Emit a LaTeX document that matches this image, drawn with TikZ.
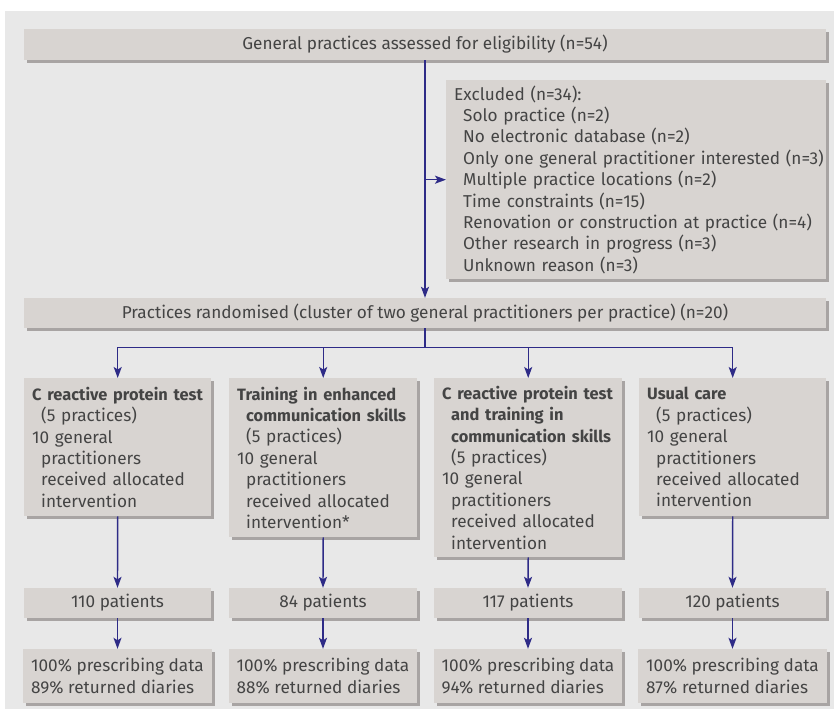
\documentclass[tikz,border=0pt]{standalone}
\usepackage{fontspec}
\setmainfont{Fira Sans}
\usetikzlibrary{arrows.meta,shadows,positioning}
\definecolor{bgc}{HTML}{E8E8E8}
\definecolor{boxc}{HTML}{D8D4D1}
\definecolor{shc}{HTML}{A8A4A3}
\definecolor{txc}{HTML}{444444}
\definecolor{arc}{HTML}{2E2B87}
\newcommand{\ind}{\hspace*{9pt}}
\newcommand{\hd}[1]{{\fontsize{16.4}{21.4}\selectfont\bfseries #1}}
\tikzset{
  card/.style={rectangle, fill=boxc, inner xsep=8pt, inner ysep=0pt, text=txc,
    font=\fontsize{17.2}{21.4}\selectfont,
    general shadow={fill=shc, shadow xshift=3pt, shadow yshift=-3pt}},
  flow/.style={draw=arc, line width=1.4pt, -{Stealth[length=11pt,width=8pt,inset=2.5pt]}},
  line/.style={draw=arc, line width=1.4pt}
}
\begin{document}
\begin{tikzpicture}[x=1pt,y=1pt]
\useasboundingbox (0,0) rectangle (834,-711);
\fill[bgc] (5,-11) rectangle (834,-709);

% top
\node[card, minimum width=802pt, minimum height=31pt] (top) at (425,-44.5) {General practices assessed for eligibility (n=54)};
\node[card, anchor=north west, inner xsep=2pt, text width=376pt, minimum height=199pt, align=left] (excl) at (446,-80)
 {\hspace*{6pt}Excluded (n=34):\\
  \hspace*{15pt}Solo practice (n=2)\\
  \hspace*{15pt}No electronic database (n=2)\\
  \hspace*{15pt}Only one general practitioner interested (n=3)\\
  \hspace*{15pt}Multiple practice locations (n=2)\\
  \hspace*{15pt}Time constraints (n=15)\\
  \hspace*{15pt}Renovation or construction at practice (n=4)\\
  \hspace*{15pt}Other research in progress (n=3)\\
  \hspace*{15pt}Unknown reason (n=3)};
\node[card, minimum width=802pt, minimum height=30pt] (rand) at (425,-313) {Practices randomised (cluster of two general practitioners per practice) (n=20)};

% arms
\node[card, anchor=north west, text width=171pt, minimum height=138pt, align=left] (b1) at (24,-378)
 {\hd{C reactive protein test}\\
  \ind(5 practices)\\
  10 general\\
  \ind practitioners\\
  \ind received allocated\\
  \ind intervention};
\node[card, anchor=north west, text width=172pt, minimum height=159pt, align=left] (b2) at (229,-378)
 {\hd{Training in enhanced}\\
  \ind\hd{communication skills}\\
  \ind(5 practices)\\
  10 general\\
  \ind practitioners\\
  \ind received allocated\\
  \ind intervention*};
\node[card, anchor=north west, text width=172pt, minimum height=179pt, align=left] (b3) at (434,-378)
 {\hd{C reactive protein test}\\
  \ind\hd{and training in}\\
  \ind\hd{communication skills}\\
  \ind(5 practices)\\
  10 general\\
  \ind practitioners\\
  \ind received allocated\\
  \ind intervention};
\node[card, anchor=north west, text width=171pt, minimum height=138pt, align=left] (b4) at (639,-378)
 {\hd{Usual care}\\
  \ind(5 practices)\\
  10 general\\
  \ind practitioners\\
  \ind received allocated\\
  \ind intervention};

% patients
\node[card, minimum width=187pt, minimum height=30pt] (p1) at (117.5,-603) {110 patients};
\node[card, minimum width=188pt, minimum height=30pt] (p2) at (323,-603) {84 patients};
\node[card, minimum width=188pt, minimum height=30pt] (p3) at (528,-603) {117 patients};
\node[card, minimum width=187pt, minimum height=30pt] (p4) at (732.5,-603) {120 patients};

% outcomes
\node[card, minimum width=187pt, minimum height=54pt, align=left] (d1) at (117.5,-676) {100\% prescribing data\\89\% returned diaries};
\node[card, minimum width=188pt, minimum height=54pt, align=left] (d2) at (323,-676) {100\% prescribing data\\88\% returned diaries};
\node[card, minimum width=188pt, minimum height=54pt, align=left] (d3) at (528,-676) {100\% prescribing data\\94\% returned diaries};
\node[card, minimum width=187pt, minimum height=54pt, align=left] (d4) at (732.5,-676) {100\% prescribing data\\87\% returned diaries};

% connectors
\draw[flow] (top.south) -- (rand.north);
\draw[flow] (top.south |- excl.west) -- (excl.west);
\coordinate (split) at ([yshift=-19pt]rand.south);
\draw[line] (rand.south) -- (split);
\foreach \b in {b1,b2,b3,b4}{
  \draw[flow] (split) -| (\b.north);
}
\foreach \i in {1,2,3,4}{
  \draw[flow] (b\i.south) -- (p\i.north);
  \draw[flow] (p\i.south) -- (d\i.north);
}
\end{tikzpicture}
\end{document}
